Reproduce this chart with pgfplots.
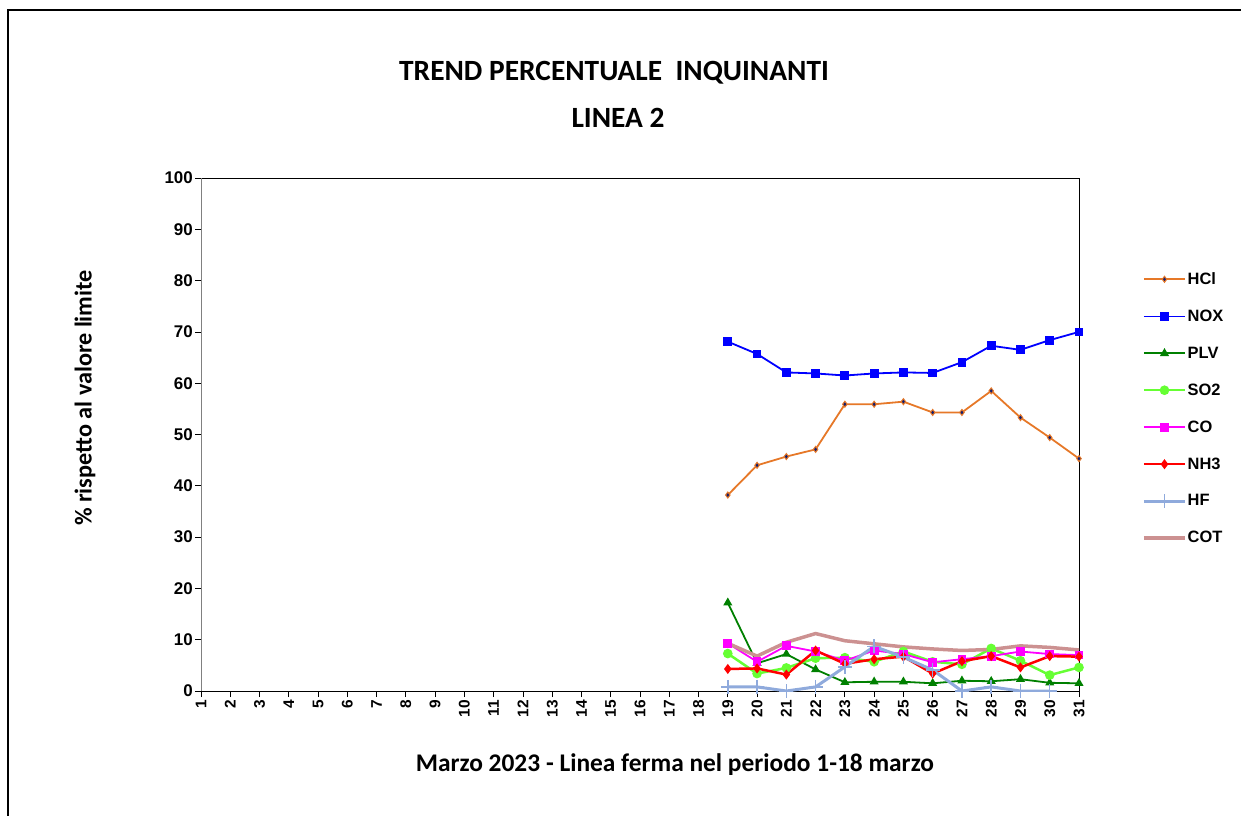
\documentclass[border=0pt]{standalone}
\usepackage{pgfplots}
\pgfplotsset{compat=1.18}
\usepackage{fontspec}
\setmainfont{Liberation Sans}
\newfontfamily\calibri{Carlito}
\definecolor{hclc}{RGB}{230,120,40}
\definecolor{hclm}{RGB}{20,30,110}
\definecolor{noxc}{RGB}{0,0,255}
\definecolor{plvc}{RGB}{0,128,0}
\definecolor{so2c}{RGB}{102,255,51}
\definecolor{coc}{RGB}{255,0,255}
\definecolor{nh3c}{RGB}{255,0,0}
\definecolor{hfc}{RGB}{143,170,220}
\definecolor{cotc}{RGB}{204,145,145}
\newcommand\ytlfont{\fontsize{17}{19}\selectfont\bfseries}
\newcommand\xtlfont{\fontsize{15.5}{18}\selectfont\bfseries}
\begin{document}
\begin{tikzpicture}
\useasboundingbox (0,0) rectangle (1241bp,-816bp);
\draw[line width=2bp] (8bp,-816bp) -- (8bp,-10bp) -- (1241bp,-10bp);
\node[font=\calibri\bfseries\fontsize{29.5}{32}\selectfont] at (614bp,-73bp) {TREND PERCENTUALE\ \ INQUINANTI};
\node[font=\calibri\bfseries\fontsize{29.5}{32}\selectfont] at (618bp,-118bp) {LINEA 2};
\node[font=\calibri\bfseries\fontsize{25.5}{28}\selectfont] at (675bp,-765bp) {Marzo 2023 - Linea ferma nel periodo 1-18 marzo};
\node[font=\calibri\bfseries\fontsize{24.3}{27}\selectfont, rotate=90] at (85bp,-398bp) {\% rispetto al valore limite};
\begin{axis}[
  at={(201bp,-691bp)}, anchor=south west,
  scale only axis, width=878bp, height=513bp,
  xmin=1, xmax=31, ymin=0, ymax=100,
  xtick={1,...,31}, ytick={0,10,...,100},
  xticklabels={1,2,3,4,5,6,7,8,9,10,11,12,13,14,15,16,17,18,19,20,21,22,23,24,25,26,27,28,29,30,31},
  yticklabels={0,10,20,30,40,50,60,70,80,90,100},
  tick pos=left,
  tick align=outside, major tick length=6bp,
  tick style={black, line width=0.8bp},
  axis line style={black, line width=1bp},
  xticklabel style={font=\xtlfont, rotate=90, anchor=east, inner sep=3bp},
  yticklabel style={font=\ytlfont, inner sep=2bp},
  legend style={at={(1.0718,0.818)}, anchor=north west, draw=none, fill=none,
    font=\bfseries\fontsize{16.5}{19}\selectfont, row sep=22bp, inner sep=0pt,
    nodes={inner sep=1bp}},
  legend cell align=left,
  legend image code/.code={\draw[mark repeat=2,mark phase=2,#1] plot coordinates {(0bp,0bp) (20.5bp,0bp) (41bp,0bp)};},
]
\addplot[color=hclc, line width=1.8bp, mark=diamond*, mark size=3bp, mark options={fill=hclm, draw=hclc, line width=1bp}] coordinates {
(19,38.2)(20,44.0)(21,45.7)(22,47.1)(23,55.9)(24,55.9)(25,56.4)(26,54.3)(27,54.3)(28,58.5)(29,53.3)(30,49.4)(31,45.3)};
\addlegendentry{HCl}
\addplot[color=noxc, line width=1.8bp, mark=square*, mark size=3.5bp] coordinates {
(19,68.1)(20,65.7)(21,62.1)(22,61.9)(23,61.5)(24,61.9)(25,62.1)(26,62.0)(27,64.1)(28,67.3)(29,66.5)(30,68.4)(31,70.0)};
\addlegendentry{NOX}
\addplot[color=plvc, line width=1.8bp, mark=triangle*, mark size=3.5bp] coordinates {
(19,17.2)(20,5.4)(21,7.2)(22,4.2)(23,1.7)(24,1.8)(25,1.8)(26,1.5)(27,2.0)(28,1.9)(29,2.3)(30,1.6)(31,1.5)};
\addlegendentry{PLV}
\addplot[color=so2c, line width=2.5bp, mark=*, mark size=3.5bp] coordinates {
(19,7.3)(20,3.4)(21,4.5)(22,6.4)(23,6.5)(24,5.7)(25,7.7)(26,5.7)(27,5.2)(28,8.3)(29,5.9)(30,3.1)(31,4.6)};
\addlegendentry{SO2}
\addplot[color=coc, line width=1.8bp, mark=square*, mark size=3.5bp] coordinates {
(19,9.3)(20,5.7)(21,8.8)(22,7.7)(23,5.9)(24,7.9)(25,7.2)(26,5.6)(27,6.2)(28,6.8)(29,7.7)(30,7.2)(31,7.0)};
\addlegendentry{CO}
\addplot[color=nh3c, line width=2.5bp, mark=diamond*, mark size=3bp] coordinates {
(19,4.3)(20,4.4)(21,3.2)(22,7.9)(23,5.3)(24,6.2)(25,6.7)(26,3.4)(27,5.8)(28,6.8)(29,4.6)(30,6.8)(31,6.7)};
\addlegendentry{NH3}
\addplot[color=hfc, line width=3bp, mark=+, mark size=7bp, mark options={line width=1.5bp}] coordinates {
(19,0.8)(20,0.8)(21,0)(22,0.8)(23,4.7)(24,8.7)(25,6.6)(26,4.1)(27,0)(28,0.8)(29,0)(30,0)};
\addlegendentry{HF}
\addplot[color=cotc, line width=3.5bp, mark=none] coordinates {
(19,9.3)(20,6.8)(21,9.5)(22,11.2)(23,9.8)(24,9.2)(25,8.6)(26,8.2)(27,7.9)(28,8.1)(29,8.8)(30,8.5)(31,8.0)};
\addlegendentry{COT}
\draw[color=gray, line width=1.2bp] (rel axis cs:0,0) -- (rel axis cs:0,1);
\end{axis}
\end{tikzpicture}
\end{document}
